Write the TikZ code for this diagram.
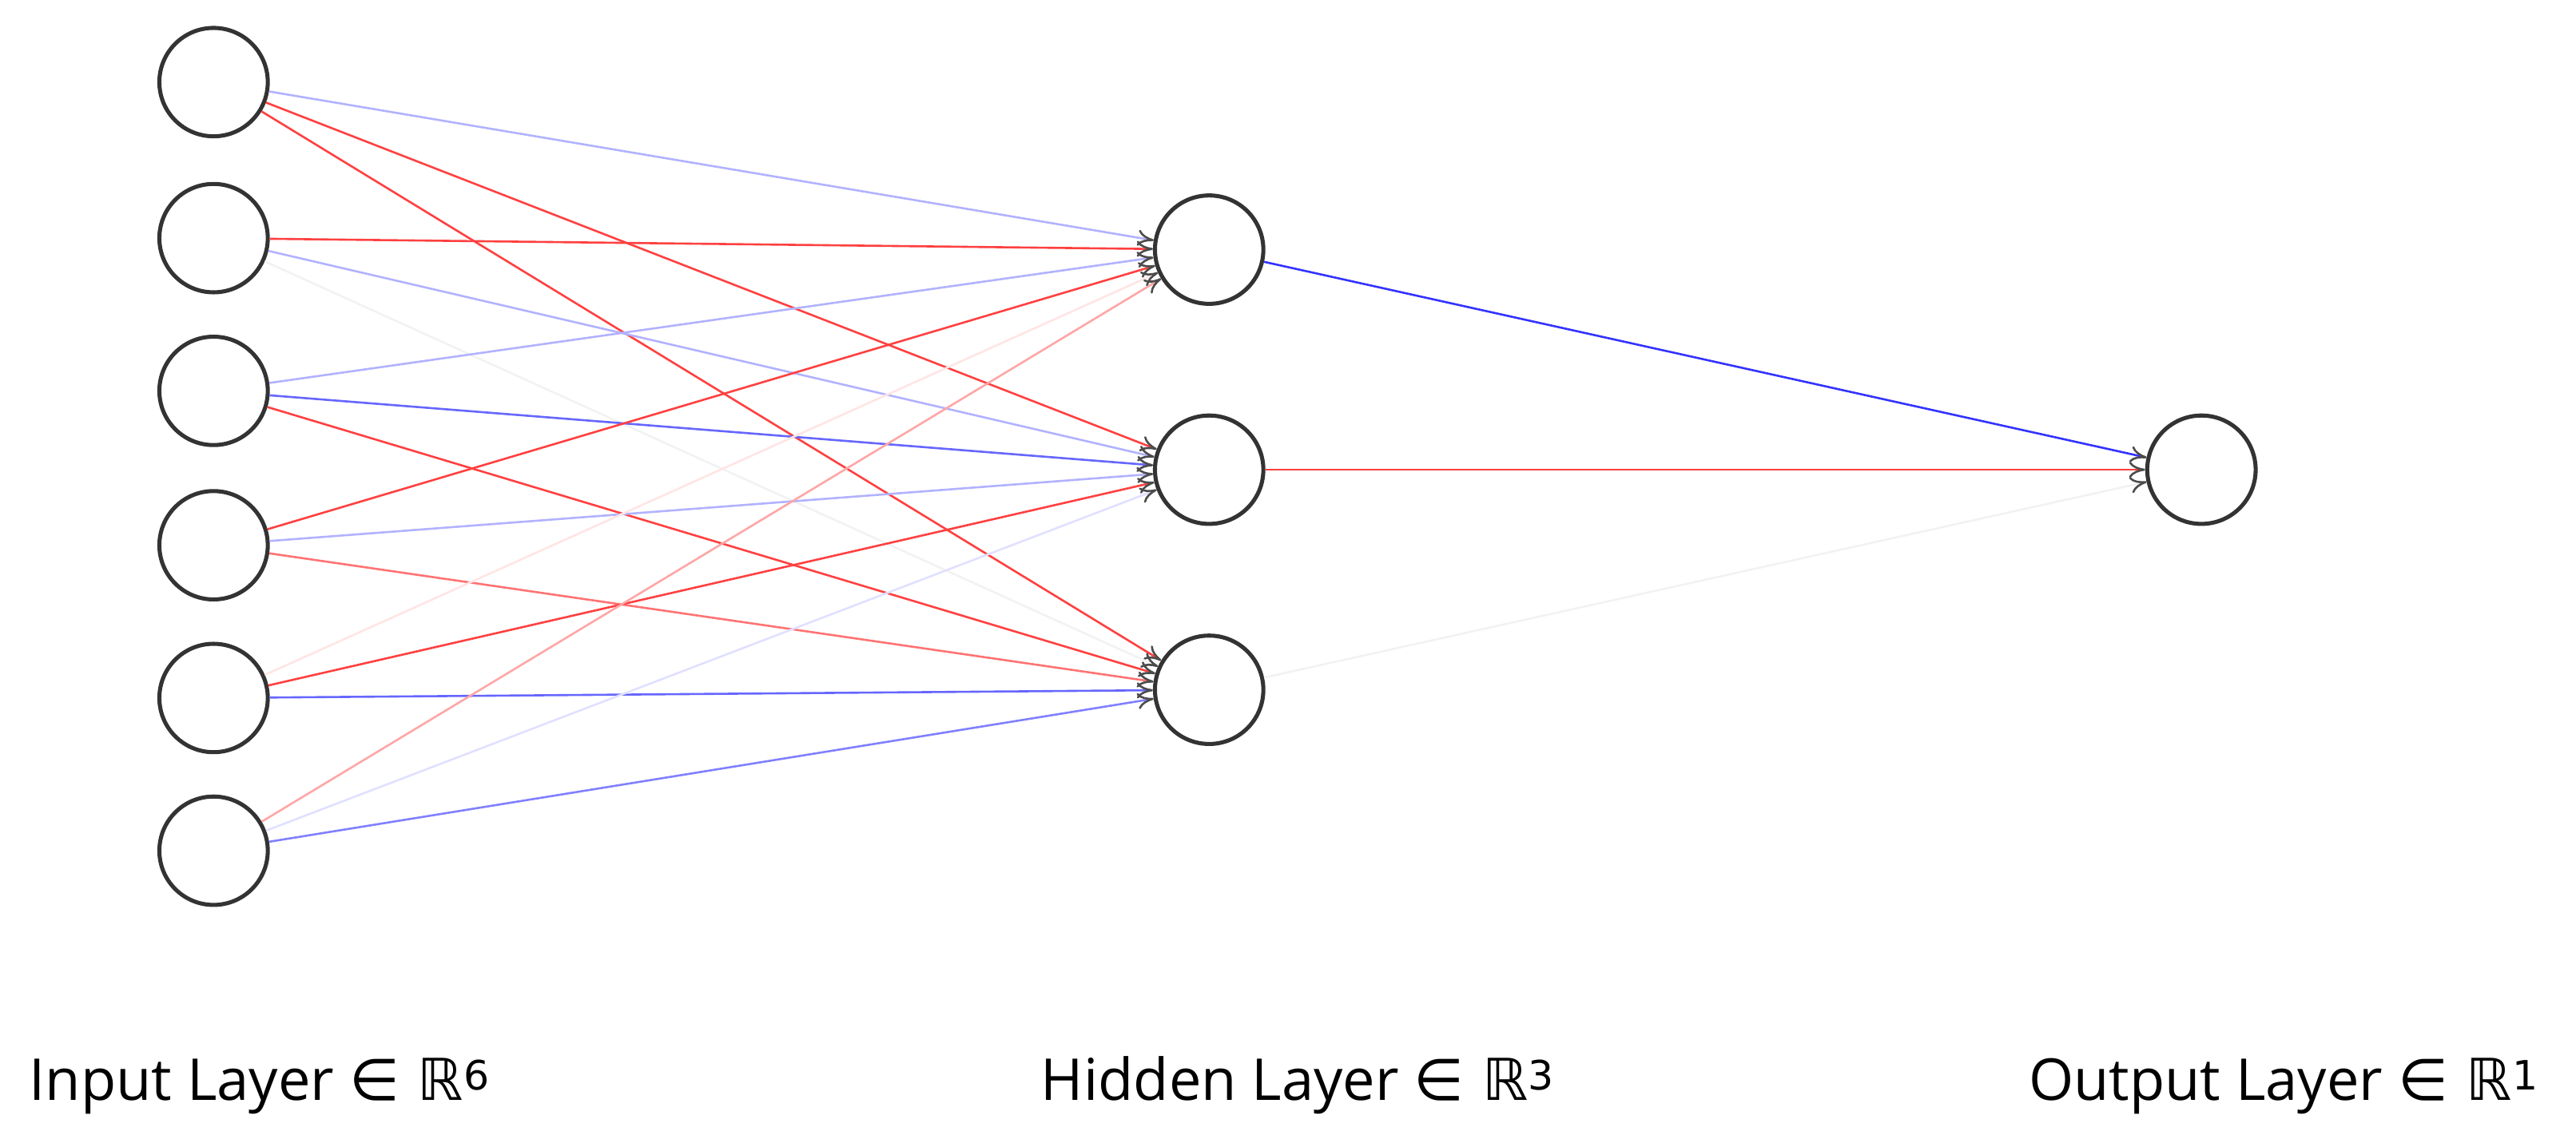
\documentclass[tikz,border=0pt]{standalone}
\usepackage{fontspec}
\setmainfont{Open Sans}
\newfontfamily\symf{DejaVu Sans}
\usetikzlibrary{arrows.meta}
\begin{document}
\begin{tikzpicture}[x=0.05cm,y=-0.05cm,
  neuron/.style={circle,draw=black!80,line width=3.5pt,minimum size=3.3cm,inner sep=0pt},
  e/.style={line width=1.8pt,-{To[length=14pt,width=14pt,color=black!70]}},
  lab/.style={font=\fontsize{50}{60}\selectfont,anchor=base}]
\useasboundingbox (0,0) rectangle (1568,695.5);
\foreach \i/\y in {1/50,2/145,3/238,4/332,5/425,6/518} \node[neuron] (i\i) at (130,\y) {};
\foreach \j/\y in {1/152,2/286,3/420} \node[neuron] (h\j) at (736,\y) {};
\node[neuron] (o) at (1340,286) {};
\colorlet{r}{red!75}
\colorlet{lb}{blue!30}
\colorlet{mb}{blue!60}
\draw[e,lb] (i1)--(h1); \draw[e,r] (i1)--(h2); \draw[e,r] (i1)--(h3);
\draw[e,r] (i2)--(h1); \draw[e,lb] (i2)--(h2); \draw[e,black!5] (i2)--(h3);
\draw[e,lb] (i3)--(h1); \draw[e,mb] (i3)--(h2); \draw[e,r] (i3)--(h3);
\draw[e,r] (i4)--(h1); \draw[e,lb] (i4)--(h2); \draw[e,red!55] (i4)--(h3);
\draw[e,red!10] (i5)--(h1); \draw[e,r] (i5)--(h2); \draw[e,mb] (i5)--(h3);
\draw[e,red!35] (i6)--(h1); \draw[e,blue!12] (i6)--(h2); \draw[e,blue!50] (i6)--(h3);
\draw[e,blue!80] (h1)--(o); \draw[e,r] (h2)--(o); \draw[e,black!5] (h3)--(o);
\node[lab] (l1) at (158,670) {Input Layer {\symf ∈ ℝ\textsuperscript{6}}};
\node[lab] (l2) at (790,670) {Hidden Layer {\symf ∈ ℝ\textsuperscript{3}}};
\node[lab] (l3) at (1390,670) {Output Layer {\symf ∈ ℝ\textsuperscript{1}}};
\end{tikzpicture}
\end{document}
